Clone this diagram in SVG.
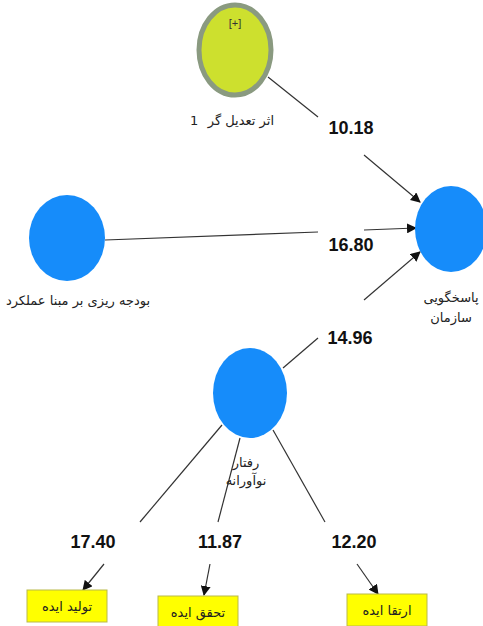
<svg xmlns="http://www.w3.org/2000/svg" width="483" height="626" viewBox="0 0 483 626">
<style>
.blue{fill:#168cfa;}
.lbl{font-family:"DejaVu Sans","Noto Sans",sans-serif;font-size:13px;fill:#222;text-anchor:middle;}
.num{font-family:"Liberation Sans",Arial,sans-serif;font-weight:bold;font-size:18px;fill:#111;text-anchor:middle;}
.ln{stroke:#333;stroke-width:1.2;fill:none;}
.arr{stroke:#333;stroke-width:1.2;fill:none;marker-end:url(#ah);}
.box{fill:#ffff00;stroke:#b9b94a;stroke-width:1;}
</style>
<defs>
<marker id="ah" viewBox="0 0 10 10" refX="9" refY="5" markerWidth="10" markerHeight="10" markerUnits="userSpaceOnUse" orient="auto">
<path d="M0,0 L10,5 L0,10 z" fill="#111"/>
</marker>
</defs>
<rect width="483" height="626" fill="#fff"/>
<g id="connectors">
<line class="ln" x1="268" y1="77" x2="318" y2="117"/>
<line class="arr" x1="364" y1="155" x2="420" y2="202"/>
<line class="ln" x1="105" y1="240" x2="318" y2="232"/>
<line class="arr" x1="364" y1="230" x2="416" y2="228"/>
<line class="ln" x1="283" y1="368" x2="318" y2="338"/>
<line class="arr" x1="364" y1="300" x2="420" y2="252"/>
<line class="ln" x1="222" y1="425" x2="140" y2="522"/>
<line class="ln" x1="240" y1="438" x2="218" y2="522"/>
<line class="ln" x1="273" y1="430" x2="325" y2="522"/>
<line class="arr" x1="104" y1="564" x2="83" y2="590"/>
<line class="arr" x1="210" y1="564" x2="204" y2="595"/>
<line class="arr" x1="357" y1="564" x2="378" y2="594"/>
<text class="num" x="351" y="134">10.18</text>
<text class="num" x="351" y="251">16.80</text>
<text class="num" x="350" y="344">14.96</text>
<text class="num" x="93" y="548">17.40</text>
<text class="num" x="220" y="548">11.87</text>
<text class="num" x="354" y="548">12.20</text>
</g>
<g id="moderator">
<ellipse cx="235" cy="50" rx="36" ry="45" fill="#cde02e" stroke="#8a9a80" stroke-width="5"/>
<text x="235" y="27" font-family="Liberation Sans,Arial,sans-serif" font-size="11" fill="#333" text-anchor="middle">[+]</text>
<text class="lbl" x="190" y="125" style="text-anchor:start">1</text>
<text class="lbl" x="274" y="125" style="text-anchor:end">اثر تعدیل گر</text>
</g>
<g id="budget">
<ellipse class="blue" cx="67" cy="238" rx="38" ry="43"/>
<text class="lbl" x="78" y="305">بودجه ریزی بر مبنا عملکرد</text>
</g>
<g id="accountability">
<ellipse class="blue" cx="451" cy="229" rx="36" ry="43"/>
<text class="lbl" x="451" y="302">پاسخگویی</text>
<text class="lbl" x="451" y="322">سازمان</text>
</g>
<g id="innovative">
<ellipse class="blue" cx="250" cy="393" rx="37" ry="45"/>
<text class="lbl" x="246" y="467">رفتار</text>
<text class="lbl" x="246" y="485">نوآورانه</text>
</g>
<g id="idea-generation">
<rect class="box" x="27" y="590" width="80" height="32"/>
<text class="lbl" x="67" y="611">تولید ایده</text>
</g>
<g id="idea-realization">
<rect class="box" x="158" y="596" width="80" height="32"/>
<text class="lbl" x="198" y="617">تحقق ایده</text>
</g>
<g id="idea-promotion">
<rect class="box" x="347" y="594" width="80" height="32"/>
<text class="lbl" x="387" y="615">ارتقا ایده</text>
</g>
</svg>
